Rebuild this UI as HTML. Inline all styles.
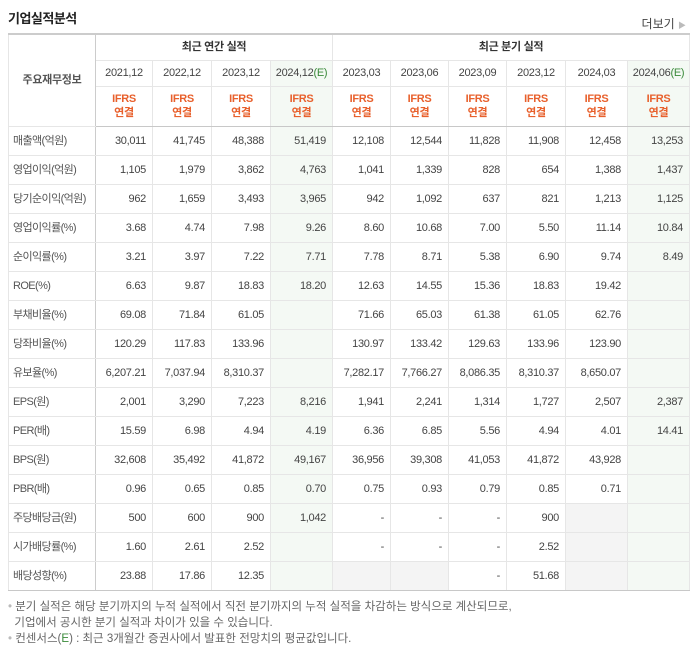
<!DOCTYPE html>
<html><head><meta charset="utf-8">
<style>
*{margin:0;padding:0;box-sizing:border-box}
body{width:694px;height:648px;background:#fff;font-family:"Liberation Sans","Noto Sans CJK KR",sans-serif;color:#333;position:relative;overflow:hidden}
#title{position:absolute;left:8px;top:8px;font-size:13px;font-weight:bold;color:#222;letter-spacing:-0.5px}
#more{position:absolute;right:8px;top:15px;font-size:12px;color:#444}
#more span{color:#bbb;font-size:8px}
table{position:absolute;left:8px;top:33px;border-collapse:collapse;table-layout:fixed;width:681px;font-size:11px;letter-spacing:-0.3px}
td,th{border:1px solid #e6e6e6;font-weight:normal;height:29px;padding:0 6px 0 0;text-align:right;color:#444;white-space:nowrap;overflow:hidden;line-height:14px}
tr:first-child th{border-top:2px solid #ccc}
th{text-align:center;padding:0;color:#444}
th.grp{font-weight:bold;font-size:11px;height:26px;color:#333}
th.per{height:26px;font-size:11px}
th.ifrs{height:40px;color:#e8602c;font-weight:bold;line-height:14px}
th.lbl{font-weight:bold;color:#555}
td.l{text-align:left;padding-left:4px;color:#555;letter-spacing:-0.6px}
.lc{border-right:1px solid #ccc}
.qs{border-left:1px solid #ccc}
.est{background:#f4f9f4}
.gray{background:#f4f4f4}
tr.sep td{border-top:1px solid #c8c8c8}
tr.last td{border-bottom:1px solid #c8c8c8}
tr.hb th{border-bottom:1px solid #c8c8c8}
.e{color:#3a8a3a}
#notes{position:absolute;left:8px;top:599px;font-size:11.5px;color:#666;line-height:16px}
#notes .g{color:#3a8a3a}
#notes b{color:#bbb;font-weight:normal}
</style></head><body>
<div id="title">기업실적분석</div>
<div id="more">더보기 <span>▶</span></div>
<table id="tbl">
<colgroup><col style="width:87px"><col style="width:57px"><col style="width:59px"><col style="width:59px"><col style="width:62px"><col style="width:58px"><col style="width:58px"><col style="width:58px"><col style="width:59px"><col style="width:62px"><col style="width:62px"></colgroup>
<tr><th rowspan="3" class="lbl lc">주요재무정보</th>
<th colspan="4" class="grp">최근 연간 실적</th>
<th colspan="6" class="grp qs">최근 분기 실적</th></tr>
<tr id="perRow"></tr>
<tr id="ifrsRow" class="hb"></tr>
</table>
<div id="notes">
<div><b>•</b> 분기 실적은 해당 분기까지의 누적 실적에서 직전 분기까지의 누적 실적을 차감하는 방식으로 계산되므로,</div>
<div>&nbsp;&nbsp;기업에서 공시한 분기 실적과 차이가 있을 수 있습니다.</div>
<div><b>•</b> 컨센서스(<span class="g">E</span>) : 최근 3개월간 증권사에서 발표한 전망치의 평균값입니다.</div>
</div>
<script>
const periods=["2021.12","2022.12","2023.12","2024.12","2023.03","2023.06","2023.09","2023.12","2024.03","2024.06"];
const estimateCols=[3,9];
const labels=["매출액(억원)","영업이익(억원)","당기순이익(억원)","영업이익률(%)","순이익률(%)","ROE(%)","부채비율(%)","당좌비율(%)","유보율(%)","EPS(원)","PER(배)","BPS(원)","PBR(배)","주당배당금(원)","시가배당률(%)","배당성향(%)"];
const values=[
["30,011","41,745","48,388","51,419","12,108","12,544","11,828","11,908","12,458","13,253"],
["1,105","1,979","3,862","4,763","1,041","1,339","828","654","1,388","1,437"],
["962","1,659","3,493","3,965","942","1,092","637","821","1,213","1,125"],
["3.68","4.74","7.98","9.26","8.60","10.68","7.00","5.50","11.14","10.84"],
["3.21","3.97","7.22","7.71","7.78","8.71","5.38","6.90","9.74","8.49"],
["6.63","9.87","18.83","18.20","12.63","14.55","15.36","18.83","19.42",""],
["69.08","71.84","61.05","","71.66","65.03","61.38","61.05","62.76",""],
["120.29","117.83","133.96","","130.97","133.42","129.63","133.96","123.90",""],
["6,207.21","7,037.94","8,310.37","","7,282.17","7,766.27","8,086.35","8,310.37","8,650.07",""],
["2,001","3,290","7,223","8,216","1,941","2,241","1,314","1,727","2,507","2,387"],
["15.59","6.98","4.94","4.19","6.36","6.85","5.56","4.94","4.01","14.41"],
["32,608","35,492","41,872","49,167","36,956","39,308","41,053","41,872","43,928",""],
["0.96","0.65","0.85","0.70","0.75","0.93","0.79","0.85","0.71",""],
["500","600","900","1,042","-","-","-","900","",""],
["1.60","2.61","2.52","","-","-","-","2.52","",""],
["23.88","17.86","12.35","","","","-","51.68","",""]
];
const grayCells=[[13,8],[13,9],[14,8],[14,9],[15,4],[15,5],[15,8]];
const sepRows=[3,6,9,13];
const tbl=document.getElementById('tbl');
const pr=document.getElementById('perRow'),ir=document.getElementById('ifrsRow');
periods.forEach((p,i)=>{
 const th=document.createElement('th');
 
 
 th.className='per'+(estimateCols.includes(i)?' est':'')+(i===4?' qs':'');
 th.innerHTML=p.replace('.',',')+(estimateCols.includes(i)?'<span class="e">(E)</span>':'');
 pr.appendChild(th);
 const t2=document.createElement('th');
 
 
 t2.className='ifrs'+(estimateCols.includes(i)?' est':'')+(i===4?' qs':'');
 t2.innerHTML='IFRS<br>연결';
 ir.appendChild(t2);
});
labels.forEach((lb,r)=>{
 const tr=document.createElement('tr');
 
 
 if(sepRows.includes(r))tr.className='sep';
 if(r===labels.length-1)tr.className='last';
 const td=document.createElement('td');
 td.className='l lc';
 
 
 td.textContent=lb;tr.appendChild(td);
 values[r].forEach((v,c)=>{
  const d=document.createElement('td');
  
  
  let cls=[];
  const isGray=grayCells.some(g=>g[0]===r&&g[1]===c);
  if(isGray&&c!==9)cls.push('gray');else if(estimateCols.includes(c))cls.push('est');
  if(c===4)cls.push('qs');
  d.className=cls.join(' ');
  d.textContent=v;tr.appendChild(d);
 });
 tbl.appendChild(tr);
});
</script>
</body></html>
